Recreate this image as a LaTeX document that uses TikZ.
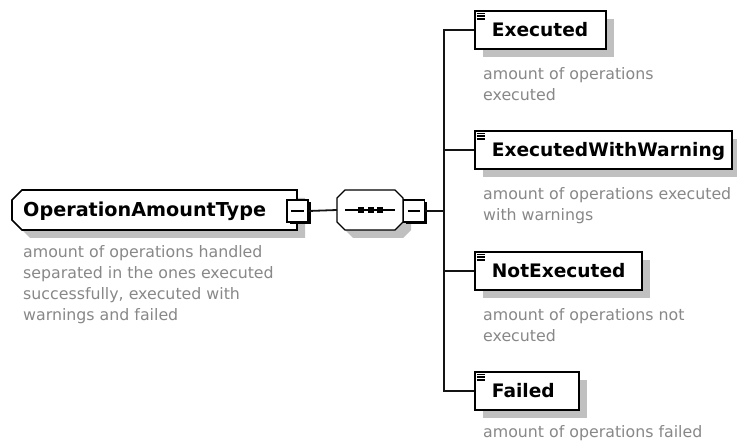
\documentclass[tikz,border=0pt]{standalone}
\usepackage{fontspec}
\setmainfont{DejaVu Sans}
\usetikzlibrary{shadows}
\definecolor{descgray}{RGB}{136,136,136}
\definecolor{shadowgray}{RGB}{192,192,192}
\definecolor{linecol}{RGB}{20,20,20}
\begin{document}
\begin{tikzpicture}[x=1pt,y=-1pt,
  conn/.style={draw=linecol, line width=1.8pt},
  gshadow/.style={drop shadow={shadow xshift=8pt, shadow yshift=-8pt, fill=shadowgray, opacity=1}},
  elem/.style={draw=black, line width=1.8pt, fill=white, minimum height=38pt,
    inner xsep=17pt, inner ysep=0pt, text width=#1, align=left,
    font=\bfseries\fontsize{18.6pt}{22pt}\selectfont, text height=14pt, text depth=0pt, gshadow},
  desc/.style={anchor=north west, inner sep=0pt, align=left, text=descgray,
    font=\fontsize{15.8pt}{21pt}\selectfont},
  minusbox/.style={draw=black, line width=1.2pt, fill=white, minimum width=21pt,
    minimum height=22pt, inner sep=0pt,
    drop shadow={shadow xshift=2.5pt, shadow yshift=-2.5pt, fill=black, opacity=1}},
  frame/.style={inner sep=0pt, outer sep=0pt, draw=none}
]
\useasboundingbox[fill=white] (0,0) rectangle (737,443);

% main complex type box
\node[frame, minimum width=285pt, minimum height=40pt] (main) at (154.5,210) {};
\fill[shadowgray, shift={(8,8)}] (297,190) -- (22,190) -- (12,200) -- (12,220) -- (22,230) -- (297,230) -- cycle;
\draw[line width=1.6pt, fill=white] (297,190) -- (22,190) -- (12,200) -- (12,220) -- (22,230) -- (297,230) -- cycle;
\node[anchor=base west, inner sep=0pt, font=\bfseries\fontsize{19.2pt}{22pt}\selectfont] (mainlabel) at (23,217) {OperationAmountType};
\node[desc] (maindesc) at (23,245) {amount of operations handled\\separated in the ones executed\\successfully, executed with\\warnings and failed};

% sequence compositor
\node[frame, minimum width=66pt, minimum height=40pt] (seq) at (370,210) {};
\fill[shadowgray, shift={(8,8)}] (345,190) -- (395,190) -- (403,198) -- (403,222) -- (395,230) -- (345,230) -- (337,222) -- (337,198) -- cycle;
\draw[line width=1.4pt, fill=white] (345,190) -- (395,190) -- (403,198) -- (403,222) -- (395,230) -- (345,230) -- (337,222) -- (337,198) -- cycle;
\draw[line width=1.6pt] (345,210) -- (395,210);
\fill (358,207) rectangle (364,213);
\fill (368,207) rectangle (374,213);
\fill (377,207) rectangle (383,213);

% minus buttons
\node[minusbox] (mm) at (297.5,211) {};
\draw[line width=1.6pt] ([xshift=5pt]mm.west) -- ([xshift=-5pt]mm.east);
\node[minusbox] (sm) at (414,211) {};
\draw[line width=1.6pt] ([xshift=5pt]sm.west) -- ([xshift=-5pt]sm.east);

\coordinate (bus) at (444,211);
\draw[conn] (mm.east) -- (seq.west);
\draw[conn] (sm.east) -- (bus);

% elements
\node[elem=97pt, anchor=west] (exec) at (474,30) {\mbox{Executed}};
\node[elem=223pt, anchor=west] (eww) at (474,150) {\mbox{ExecutedWithWarning}};
\node[elem=133pt, anchor=west] (notex) at (474,271) {\mbox{NotExecuted}};
\node[elem=70pt, anchor=west] (failed) at (474,391) {\mbox{Failed}};

\foreach \n in {exec,eww,notex,failed}{
  \foreach \dy in {3.2,6,8.8}{
    \draw[line width=1.3pt] ([shift={(3,\dy)}]\n.north west) -- ++(7.5,0);
  }
}

\draw[conn] (exec.west) -- (exec.west -| bus) -- (failed.west -| bus) -- (failed.west);
\draw[conn] (eww.west) -- (eww.west -| bus);
\draw[conn] (notex.west) -- (notex.west -| bus);

% annotations
\node[desc] (execdesc) at (483,67) {amount of operations\\executed};
\node[desc] (ewwdesc) at (483,187) {amount of operations executed\\with warnings};
\node[desc] (notexdesc) at (483,308) {amount of operations not\\executed};
\node[desc] (faileddesc) at (483,425) {amount of operations failed};
\end{tikzpicture}
\end{document}
